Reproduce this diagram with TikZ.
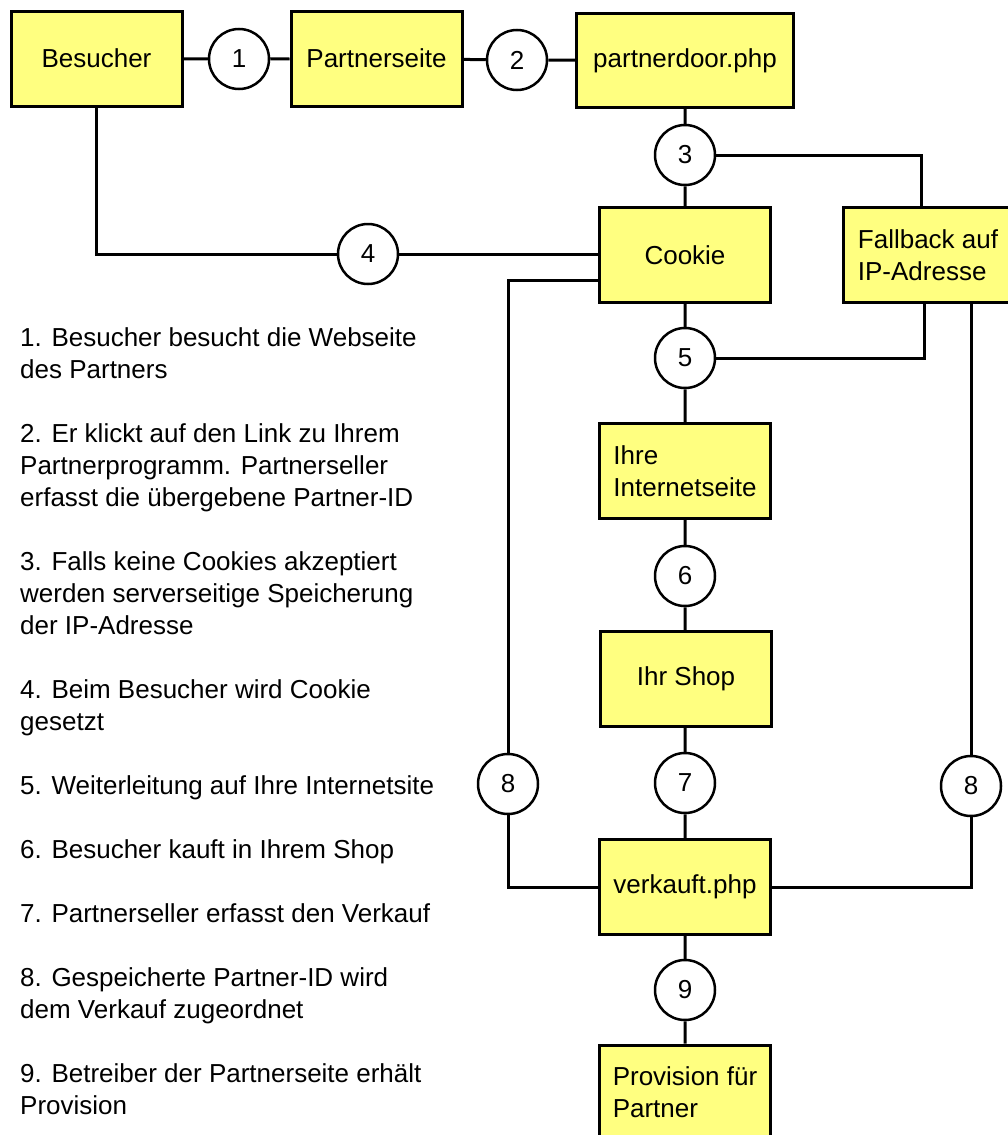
\documentclass[tikz,border=0pt]{standalone}
\usepackage{fontspec}
\setmainfont{Liberation Sans}
\definecolor{boxyellow}{RGB}{255,255,128}

\begin{document}
\begin{tikzpicture}[x=1pt, y=-1pt,
  every node/.style={font=\fontsize{26}{32}\selectfont},
  box/.style={draw, fill=boxyellow, line width=3pt, minimum width=171pt, minimum height=95pt},
  leftbox/.style={box, align=left},
  num/.style={circle, draw, fill=white, line width=2.5pt, minimum size=60pt, inner sep=0pt},
  item/.style={anchor=north west, inner sep=0pt, align=left}]
        \fill [white] (0,0) rectangle (1008,1135);
        \useasboundingbox (0,0) rectangle (1008,1135);
        \node [box] (besucher) at (96.5,58.5) {Besucher};
        \node [box] (partnerseite) at (376.5,58.5) {Partnerseite};
        \node [box, minimum width=217pt, minimum height=94pt] (partnerdoor) at (685,60.5) {partnerdoor.php};
        \node [box] (cookie) at (685,255) {Cookie};
        \node [leftbox, minimum width=170pt] (fallback) at (928,255) {Fallback auf\\IP-Adresse};
        \node [leftbox] (internet) at (685,471) {Ihre\\Internetseite};
        \node [box] (shop) at (686,679) {Ihr Shop};
        \node [box] (verkauft) at (685,887) {verkauft.php};
        \node [leftbox] (provision) at (685,1092.5) {Provision für\\Partner};
        \node [num] (c1) at (239,59) {1};
        \node [num] (c2) at (517,60) {2};
        \node [num] (c3) at (685,155) {3};
        \node [num] (c4) at (368,254) {4};
        \node [num] (c5) at (685,358) {5};
        \node [num] (c6) at (685,576) {6};
        \node [num] (c7) at (685,783) {7};
        \node [num] (c8l) at (508,784) {8};
        \node [num] (c8r) at (971,786) {8};
        \node [num] (c9) at (685,990) {9};
        \draw [line width=3pt] (besucher) -- (c1) -- (partnerseite) -- (c2) -- (partnerdoor) -- (c3) -- (cookie)
          -- (c5) -- (internet) -- (c6) -- (shop.north -| c6) (shop.south -| c7) -- (c7) -- (verkauft) -- (c9) -- (provision);
        \draw [line width=3pt] (c3.east) -| ([xshift=80pt]fallback.north west);
        \draw [line width=3pt] (c5.east) -| ([xshift=83pt]fallback.south west);
        \draw [line width=3pt] (besucher.south) |- (c4.west);
        \draw [line width=3pt] (c4.east) -- (c4 -| cookie.west);
        \draw [line width=3pt] ([yshift=-25pt]cookie.west) -| (c8l.north);
        \draw [line width=3pt] (c8l.south) |- (verkauft.west);
        \draw [line width=3pt] (fallback.south -| c8r) -- (c8r.north);
        \draw [line width=3pt] (c8r.south) |- (verkauft.east);
        \foreach \y/\txt [count=\i] in {
          327/{1. Besucher besucht die Webseite\\des Partners},
          423/{2. Er klickt auf den Link zu Ihrem\\Partnerprogramm. Partnerseller\\erfasst die übergebene Partner-ID},
          551/{3. Falls keine Cookies akzeptiert\\werden serverseitige Speicherung\\der IP-Adresse},
          679/{4. Beim Besucher wird Cookie\\gesetzt},
          775/{5. Weiterleitung auf Ihre Internetsite},
          839/{6. Besucher kauft in Ihrem Shop},
          903/{7. Partnerseller erfasst den Verkauf},
          967/{8. Gespeicherte Partner-ID wird\\dem Verkauf zugeordnet},
          1063/{9. Betreiber der Partnerseite erhält\\Provision}}
          \node [item] (t\i) at (20,\y) {\txt};
      \end{tikzpicture}
\end{document}
